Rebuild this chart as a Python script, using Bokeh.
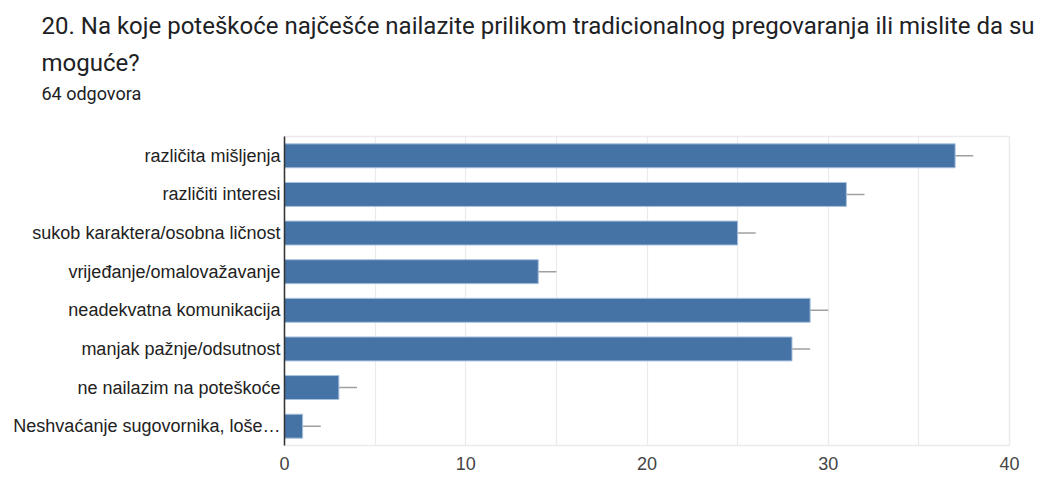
from bokeh.plotting import figure
from bokeh.models import ColumnDataSource, FactorRange, Range1d, FixedTicker, Title
from bokeh.embed import file_html
from bokeh.resources import INLINE

categories = [
    "različita mišljenja",
    "različiti interesi",
    "sukob karaktera/osobna ličnost",
    "vrijeđanje/omalovažavanje",
    "neadekvatna komunikacija",
    "manjak pažnje/odsutnost",
    "ne nailazim na poteškoće",
    "Neshvaćanje sugovornika, loše…",
]
counts = [37, 31, 25, 14, 29, 28, 3, 1]
errors = [1, 1, 1, 1, 1, 1, 1, 1]
x_ticks = [0, 10, 20, 30, 40]
grid_ticks = [0, 5, 10, 15, 20, 25, 30, 35, 40]

title_line1 = "20. Na koje poteškoće najčešće nailazite prilikom tradicionalnog pregovaranja ili mislite da su"
title_line2 = "moguće?"
subtitle = "64 odgovora"

src = ColumnDataSource(dict(
    cat=categories,
    val=counts,
    lo=[v - e for v, e in zip(counts, errors)],
    hi=[v + e for v, e in zip(counts, errors)],
))

p = figure(
    width=1050, height=477,
    y_range=FactorRange(factors=list(reversed(categories))),
    x_range=Range1d(0, 40),
    output_backend="svg", toolbar_location=None,
    min_border_left=284, min_border_right=41, min_border_bottom=32, min_border_top=0,
)

# header: panels stack upward from the frame (first added = closest)
for txt, size, so in [(" ", "18px", 4), (subtitle, "18px", 12),
                      (title_line2, "24px", -5), (title_line1, "24px", 19)]:
    t = Title(text=txt, text_font="Roboto", text_font_size=size, text_font_style="normal",
              text_color="#202124", align="left", offset=-243, standoff=so)
    p.add_layout(t, "above")

p.segment(x0="lo", x1="hi", y0="cat", y1="cat", source=src, line_color="#a0a0a0", line_width=1.5)
p.hbar(y="cat", right="val", left=0, height=0.62, source=src,
       fill_color="#4573a6", line_color="#a9c1dd", line_width=1)

p.outline_line_color = "#ebebeb"
p.outline_line_width = 1.5
p.xgrid.ticker = FixedTicker(ticks=grid_ticks)
p.xgrid.grid_line_color = "#ebebeb"
p.xgrid.grid_line_width = 1.2
p.ygrid.grid_line_color = None

p.xaxis.ticker = FixedTicker(ticks=x_ticks)
p.xaxis.axis_line_color = None
p.xaxis.major_tick_line_color = None
p.xaxis.minor_tick_line_color = None
p.xaxis.major_tick_out = 0
p.xaxis.major_tick_in = 0
p.xaxis.major_label_text_font = "Liberation Sans"
p.xaxis.major_label_text_font_size = "18px"
p.xaxis.major_label_text_color = "#444444"
p.xaxis.major_label_standoff = 11

p.yaxis.axis_line_color = "#333333"
p.yaxis.axis_line_width = 1.5
p.yaxis.major_tick_line_color = None
p.yaxis.minor_tick_line_color = None
p.yaxis.major_tick_out = 0
p.yaxis.major_tick_in = 0
p.yaxis.major_label_text_font = "Liberation Sans"
p.yaxis.major_label_text_font_size = "18px"
p.yaxis.major_label_text_color = "#222222"
p.yaxis.major_label_standoff = 4

p.y_range.range_padding = 0
p.y_range.group_padding = 0

open("out.html", "w").write(file_html(p, INLINE))
